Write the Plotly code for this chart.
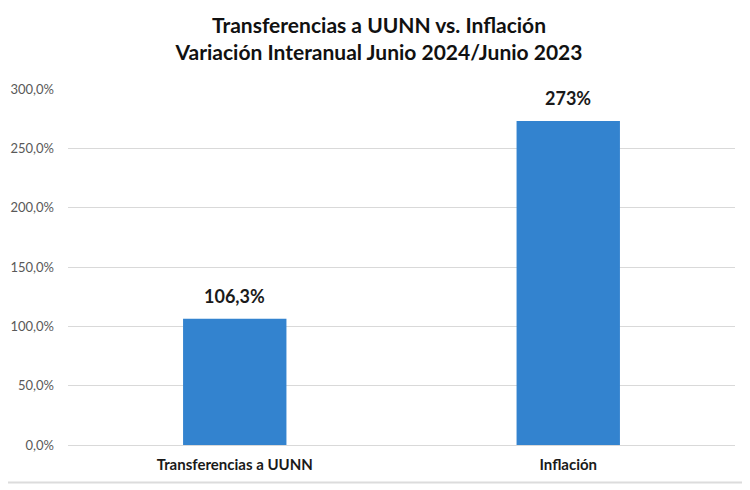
import plotly.graph_objects as go

# Datos
categorias = ['Transferencias a UUNN', 'Inflación']
variacion = [106.3, 273.0]
etiquetas = ['106,3%', '273%']
ticks_y = [0, 50, 100, 150, 200, 250, 300]
ticks_txt = ['0,0%', '50,0%', '100,0%', '150,0%', '200,0%', '250,0%', '300,0%']

fig = go.Figure()
fig.add_trace(go.Bar(x=categorias, y=variacion,
                     marker=dict(color='#3383cf', line=dict(width=0)),
                     width=0.31, hoverinfo='x+y'))

# etiquetas de datos encima de cada barra
for cat, val, txt in zip(categorias, variacion, etiquetas):
    fig.add_annotation(x=cat, y=val, text=txt, showarrow=False,
                       yanchor='bottom', yshift=10,
                       font=dict(size=18, color='#1a1a1a', family='Lato', weight='bold'))

fig.update_yaxes(range=[0, 300], tickvals=ticks_y, ticktext=ticks_txt,
                 showgrid=True, gridcolor='#d9d9d9', gridwidth=1,
                 zeroline=False, showline=False, ticks='',
                 ticklabelstandoff=13, automargin=False,
                 tickfont=dict(size=13, color='#595959', family='Lato'))
fig.update_xaxes(showline=True, linecolor='#d9d9d9', linewidth=1, ticks='',
                 ticklabelstandoff=6, automargin=False,
                 tickfont=dict(size=15, color='#1a1a1a', family='Lato', weight='bold'))

# marco gris fino
fig.add_shape(type='line', xref='paper', yref='paper', x0=-0.1, x1=1.1, y0=-0.105, y1=-0.105,
              line=dict(color='#dcdcdc', width=2))

fig.update_layout(
    width=742, height=482,
    margin=dict(l=60, r=15, t=81, b=45),
    paper_bgcolor='white', plot_bgcolor='white',
    showlegend=False,
    font=dict(family='Lato'),
    title=dict(text='Transferencias a UUNN vs. Inflación<br>Variación Interanual Junio 2024/Junio 2023',
               x=0.5, xanchor='center', y=0.948, yanchor='middle',
               font=dict(size=21, color='#111111', family='Lato', weight='bold')),
)

fig.write_html('out.html')
